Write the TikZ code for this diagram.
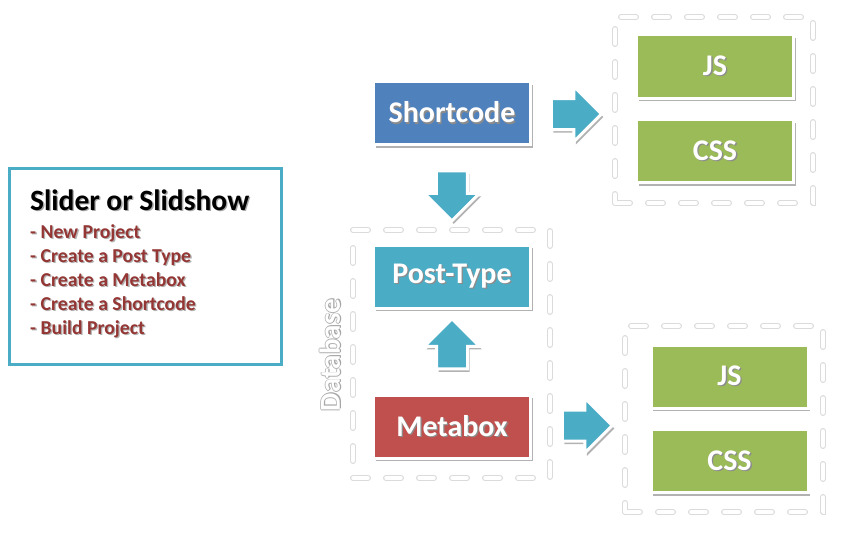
\documentclass[tikz,border=0pt]{standalone}
\usepackage{fontspec}
\setmainfont{Carlito}
\usetikzlibrary{shapes.arrows,shadows,calc}
\definecolor{cblue}{HTML}{4F81BD}
\definecolor{cteal}{HTML}{4BACC6}
\definecolor{cred}{HTML}{C0504D}
\definecolor{cgreen}{HTML}{9BBB59}
\definecolor{cdark}{HTML}{943634}
\newcommand\shtxt[2][black!45]{\leavevmode\rlap{\kern1.3pt\raisebox{-1.3pt}{\textcolor{#1}{#2}}}#2}
\newcommand\glowtxt[1]{\leavevmode\rlap{\kern-0.9pt\textcolor{black!30}{#1}}\rlap{\kern0.9pt\textcolor{black!30}{#1}}\rlap{\raisebox{0.9pt}{\textcolor{black!30}{#1}}}\rlap{\kern0.6pt\raisebox{-1.2pt}{\textcolor{black!35}{#1}}}\textcolor{white}{#1}}
\begin{document}
\begin{tikzpicture}[x=1pt,y=-1pt,
  box/.style={draw=white, line width=3pt, minimum width=157pt, minimum height=63pt, inner sep=0pt,
    text=white, font=\fontsize{30}{34}\selectfont\bfseries,
    drop shadow={shadow xshift=2pt, shadow yshift=-3pt, opacity=.3, fill=black}},
  dashbox/.style={draw=white, line width=3.5pt, line cap=round, dash pattern=on 15pt off 18pt, inner sep=0pt,
    preaction={draw=black!14, line width=6pt, line cap=round, dash pattern=on 15pt off 18pt}},
  blockarrow/.style={single arrow, single arrow head extend=12pt, inner sep=14pt, minimum height=50pt,
    fill=cteal, draw=white, line width=3pt,
    drop shadow={shadow xshift=2pt, shadow yshift=-3pt, opacity=.3, fill=black}},
  itemtxt/.style={anchor=base west, inner sep=0pt, text=cdark, font=\fontsize{19.7}{24}\selectfont\bfseries}
]
\useasboundingbox (0,0) rectangle (842,543);

% dashed groups
\node[dashbox, minimum width=198pt, minimum height=186pt] (g1) at (714,110) {};
\node[dashbox, minimum width=197pt, minimum height=248pt] (db) at (451.5,354) {};
\node[dashbox, minimum width=198pt, minimum height=186pt] (g2) at (724,419) {};

% left info box
\node[draw=cteal, line width=3pt, minimum width=272pt, minimum height=196pt, inner sep=0pt] (info) at (145.5,266.5) {};
\node[anchor=base west, inner sep=0pt, font=\fontsize{29.5}{34}\selectfont\bfseries] (title) at (30,210) {\shtxt[black!35]{Slider or Slidshow}};
\foreach \t [count=\i] in {- New Project, - Create a Post Type, - Create a Metabox, - Create a Shortcode, - Build Project}
  \node[itemtxt] (l\i) at (30,{238+24*(\i-1)}) {\shtxt[black!30]{\t}};

% main boxes
\node[box, fill=cblue] (sc) at (452,113) {\shtxt{Shortcode}};
\node[box, fill=cteal] (pt) at (452,276.5) {\shtxt{Post-Type}};
\node[box, fill=cred] (mb) at (452,426.5) {\shtxt{Metabox}};
\node[box, fill=cgreen] (js1) at (715,66.5) {\shtxt{JS}};
\node[box, fill=cgreen] (css1) at (715,151) {\shtxt{CSS}};
\node[box, fill=cgreen] (js2) at (729.5,376.5) {\shtxt{JS}};
\node[box, fill=cgreen] (css2) at (729.5,461) {\shtxt{CSS}};

% database label
\node[rotate=90, inner sep=0pt, font=\fontsize{29}{32}\selectfont\bfseries] (dblabel) at (330,355) {\glowtxt{Database}};

% block arrows
\node[blockarrow] (a1) at ($(sc.east)!0.5!(g1.west |- sc.east)+(-4,1)$) {};
\node[blockarrow, shape border rotate=270] (a2) at ($(sc.south)!0.5!(db.north)+(0,1)$) {};
\node[blockarrow, shape border rotate=90] (a3) at ($(mb.north)!0.5!(pt.south)$) {};
\node[blockarrow] (a4) at ($(db.east |- mb.east)!0.5!(g2.west |- mb.east)+(-8,-1)$) {};
\end{tikzpicture}
\end{document}
